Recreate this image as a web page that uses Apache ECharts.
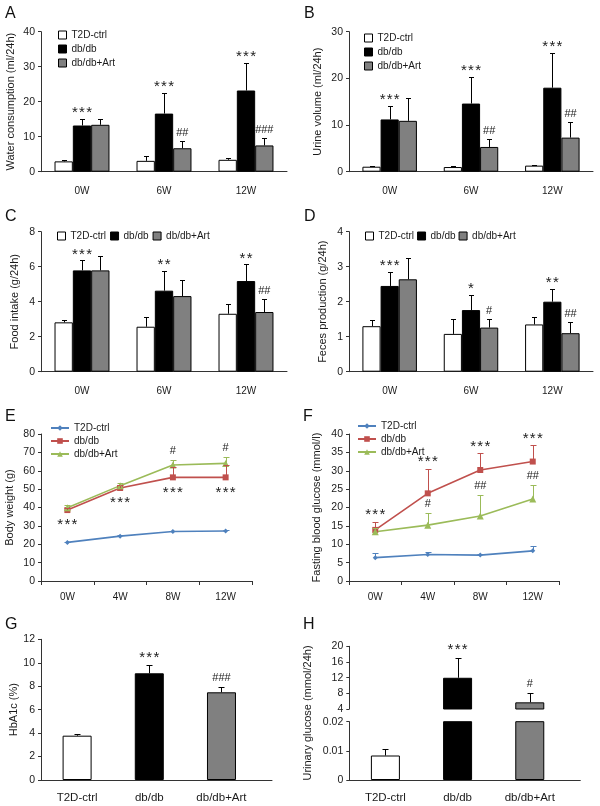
<!DOCTYPE html>
<html><head><meta charset="utf-8">
<script src="https://cdn.jsdelivr.net/npm/echarts@6/dist/echarts.min.js"></script>
<style>html,body{margin:0;padding:0;background:#fff}#c{width:600px;height:806px}</style>
</head><body><div id="c"></div>
<script>
// ---------------- data ----------------
const groups = ['T2D-ctrl', 'db/db', 'db/db+Art'];
const weeks3 = ['0W', '6W', '12W'];
const weeks4 = ['0W', '4W', '8W', '12W'];

// A: water consumption (ml/24h)
const waterTicks = [0, 10, 20, 30, 40];
const waterCtrl = [2.95, 3.1, 3.4],   waterCtrlSD = [0.35, 1.4, 0.6];
const waterDb   = [13.2, 16.6, 23.2], waterDbSD   = [2.0, 6.0, 7.8];
const waterArt  = [13.4, 6.7, 7.5],   waterArtSD  = [1.8, 2.1, 2.1];
const waterDbSig = ['***', '***', '***'], waterArtSig = ['', '##', '###'];

// B: urine volume (ml/24h)
const urineTicks = [0, 10, 20, 30];
const urineCtrl = [1.07, 1.0, 1.3],  urineCtrlSD = [0.13, 0.15, 0.13];
const urineDb   = [11.2, 14.6, 18.0], urineDbSD  = [2.9, 5.8, 7.5];
const urineArt  = [10.9, 5.3, 7.3],   urineArtSD = [5.0, 1.8, 3.4];
const urineDbSig = ['***', '***', '***'], urineArtSig = ['', '##', '##'];

// C: food intake (g/24h)
const foodTicks = [0, 2, 4, 6, 8];
const foodCtrl = [2.82, 2.57, 3.31], foodCtrlSD = [0.13, 0.57, 0.58];
const foodDb   = [5.79, 4.63, 5.18], foodDbSD   = [0.57, 1.12, 0.95];
const foodArt  = [5.79, 4.32, 3.41], foodArtSD  = [0.84, 0.94, 0.72];
const foodDbSig = ['***', '**', '**'], foodArtSig = ['', '', '##'];

// D: feces production (g/24h)
const fecesTicks = [0, 1, 2, 3, 4];
const fecesCtrl = [1.30, 1.08, 1.35], fecesCtrlSD = [0.18, 0.44, 0.21];
const fecesDb   = [2.45, 1.76, 2.00], fecesDbSD   = [0.40, 0.43, 0.37];
const fecesArt  = [2.64, 1.26, 1.10], fecesArtSD  = [0.62, 0.26, 0.32];
const fecesDbSig = ['***', '*', '**'], fecesArtSig = ['', '#', '##'];

// E: body weight (g)
const weightTicks = [0, 10, 20, 30, 40, 50, 60, 70, 80];
const weightCtrl = [21.0, 24.4, 26.9, 27.2], weightCtrlSD = [0.4, 0.4, 0.4, 0.4];
const weightDb   = [38.6, 50.6, 56.4, 56.4], weightDbSD   = [1.0, 1.9, 5.8, 7.0];
const weightArt  = [39.9, 51.9, 63.1, 64.0], weightArtSD  = [1.5, 1.3, 2.8, 3.3];
const weightDbSig = ['***', '***', '***', '***'], weightArtSig = ['', '', '#', '#'];

// F: fasting blood glucose (mmol/l)
const fbgTicks = [0, 5, 10, 15, 20, 25, 30, 35, 40];
const fbgCtrl = [6.35, 7.2, 7.05, 8.2],    fbgCtrlSD = [1.4, 0.8, 0.2, 1.2];
const fbgDb   = [13.9, 23.85, 30.2, 32.5], fbgDbSD   = [2.2, 6.6, 4.5, 4.4];
const fbgArt  = [13.4, 15.2, 17.7, 22.3],  fbgArtSD  = [1.0, 3.4, 5.8, 3.8];
const fbgDbSig = ['***', '***', '***', '***'], fbgArtSig = ['', '#', '##', '##'];

// G: HbA1c (%)
const hbTicks = [0, 2, 4, 6, 8, 10, 12];
const hbVals = [3.78, 9.1, 7.48], hbSD = [0.14, 0.7, 0.48];
const hbSig = ['', '***', '###'];

// H: urinary glucose (mmol/24h), broken axis
const ugUpperTicks = [4, 8, 12, 16, 20];
const ugLowerTicks = [0, 0.01, 0.02];
const ugVals = [0.0084, 11.97, 5.7], ugSD = [0.0022, 5.1, 2.3];
const ugSig = ['', '***', '#'];

// ---------------- styles ----------------
const FONT = "'Liberation Sans', Arial, Helvetica, sans-serif";
const TXT = '#1a1a1a';
const AX = '#333';
const barColors = ['#ffffff', '#000000', '#808080'];
const lineColors = ['#4f81bd', '#c0504d', '#9bbb59'];
const lineSymbols = ['diamond', 'rect', 'triangle'];
const lineSymbolSizes = [5, 6, 7];
const CAT_GAP = 0.33;

const option = {
  animation: false,
  backgroundColor: '#fff',
  textStyle: { fontFamily: FONT },
  grid: [], xAxis: [], yAxis: [], series: [], legend: [], graphic: []
};

function yAxisCfg(gi, ticks, name, nameGap) {
  return {
    type: 'value', gridIndex: gi,
    min: ticks[0], max: ticks[ticks.length - 1], interval: ticks[1] - ticks[0],
    name: name || '', nameLocation: 'middle', nameGap: nameGap || 0,
    nameTextStyle: { fontSize: 11, color: TXT, fontFamily: FONT },
    axisLine: { show: true, lineStyle: { color: AX, width: 1 } },
    axisTick: { show: true, length: 3, lineStyle: { color: AX } },
    axisLabel: { fontSize: 10.5, color: TXT, margin: 6, fontFamily: FONT },
    splitLine: { show: false }
  };
}

function inRange(ticks, v) { return v >= ticks[0] - 1e-9 && v <= ticks[ticks.length - 1] + 1e-9; }

function errSeries(gi, xs, means, sds, offFn, color, capHalf, ticks) {
  return {
    type: 'custom', xAxisIndex: gi, yAxisIndex: gi, silent: true, z: 6, clip: false,
    data: means.map((m, i) => [xs[i], m, m + sds[i]]),
    renderItem(params, api) {
      const m = api.value(1), t = api.value(2);
      if (ticks && (!inRange(ticks, m) || !inRange(ticks, t))) return null;
      const band = api.size([1, 0])[0];
      const b = api.coord([api.value(0), m]);
      const p = api.coord([api.value(0), t]);
      const x = Math.round(b[0] + offFn(band)) + 0.5;
      const yt = Math.round(p[1]) + 0.5;
      return { type: 'group', children: [
        { type: 'line', shape: { x1: x, y1: b[1], x2: x, y2: yt }, style: { stroke: color, lineWidth: 1 } },
        { type: 'line', shape: { x1: x - capHalf, y1: yt, x2: x + capHalf, y2: yt }, style: { stroke: color, lineWidth: 1 } }
      ]};
    }
  };
}

function sigSeries(gi, xs, anchors, texts, offFn, dyFn, ticks) {
  return {
    type: 'custom', xAxisIndex: gi, yAxisIndex: gi, silent: true, z: 10, clip: false,
    data: anchors.map((a, i) => [xs[i], a]),
    renderItem(params, api) {
      const t = texts[params.dataIndex];
      if (!t) return null;
      if (ticks && !inRange(ticks, api.value(1))) return null;
      const band = api.size([1, 0])[0];
      const p = api.coord([api.value(0), api.value(1)]);
      const star = t[0] === '*';
      return { type: 'text', x: p[0] + offFn(band), y: p[1] + dyFn(star) + (star ? 1 : 0),
        style: { text: star ? t.split('').join('\u200a') : t, fill: TXT,
          font: (star ? '15px ' : '11px ') + FONT, align: 'center', verticalAlign: 'middle' } };
    }
  };
}

function barLegend(gi, cfg) {
  return Object.assign({
    data: groups.slice(), icon: 'rect', itemWidth: 8, itemHeight: 8, padding: 0,
    itemStyle: { borderColor: '#000', borderWidth: 1 },
    textStyle: { fontSize: 10, color: TXT, fontFamily: FONT }, selectedMode: false
  }, cfg);
}

function barPanel(p) {
  const gi = option.grid.length;
  option.grid.push(p.grid);
  option.xAxis.push({ type: 'category', gridIndex: gi, data: weeks3,
    axisLine: { lineStyle: { color: AX } }, axisTick: { show: false },
    axisLabel: { fontSize: 10, color: TXT, margin: 15, fontFamily: FONT } });
  option.yAxis.push(yAxisCfg(gi, p.ticks, p.name, p.nameGap));
  const xs = weeks3.map((w, i) => i);
  p.means.forEach((m, s) => {
    option.series.push({ type: 'bar', name: groups[s], xAxisIndex: gi, yAxisIndex: gi, data: m,
      barGap: '0%', barCategoryGap: (CAT_GAP * 100) + '%',
      itemStyle: { color: barColors[s], borderColor: '#000', borderWidth: 1 } });
  });
  p.means.forEach((m, s) => {
    const off = band => (s - 1) * band * (1 - CAT_GAP) / 3;
    option.series.push(errSeries(gi, xs, m, p.sds[s], off, '#000', 2.5));
    if (p.sigs[s]) option.series.push(sigSeries(gi, xs, m.map((v, i) => v + p.sds[s][i]), p.sigs[s], off,
      star => star ? -7 : -8));
  });
  option.legend.push(barLegend(gi, p.legend));
}

function linePanel(p) {
  const gi = option.grid.length;
  option.grid.push(p.grid);
  option.xAxis.push({ type: 'category', gridIndex: gi, data: weeks4,
    axisLine: { lineStyle: { color: AX } }, axisTick: { show: true, length: 4, lineStyle: { color: AX } },
    axisLabel: { fontSize: 10, color: TXT, margin: 11, fontFamily: FONT } });
  option.yAxis.push(yAxisCfg(gi, p.ticks, p.name, p.nameGap));
  const xs = weeks4.map((w, i) => i);
  p.means.forEach((m, s) => {
    option.series.push({ type: 'line', name: groups[s] + ' ', xAxisIndex: gi, yAxisIndex: gi, data: m,
      symbol: lineSymbols[s], symbolSize: lineSymbolSizes[s], showSymbol: true,
      lineStyle: { color: lineColors[s], width: 1.6 }, itemStyle: { color: lineColors[s] }, z: 3 });
  });
  p.means.forEach((m, s) => {
    option.series.push(errSeries(gi, xs, m, p.sds[s], () => 0, lineColors[s], 3));
  });
  p.sigList.forEach(sg => option.series.push(sigSeries(gi, xs, sg.anchors, sg.texts, () => 0, sg.dy)));
  option.legend.push(Object.assign({
    data: groups.map(g => g + ' '), formatter: n => n.trim(), orient: 'vertical', padding: 0,
    itemWidth: 18, itemHeight: 7, itemGap: 3, selectedMode: false,
    textStyle: { fontSize: 10, color: TXT, fontFamily: FONT }
  }, p.legend));
}

function singleBarAxisX(gi, show) {
  return { type: 'value', gridIndex: gi, min: 0, max: 3.2, interval: 0.5, show: show,
    axisLine: { show: true, onZero: false, lineStyle: { color: AX } }, axisTick: { show: false }, splitLine: { show: false },
    axisLabel: { fontSize: 11.5, color: TXT, margin: 12, fontFamily: FONT, showMaxLabel: false, showMinLabel: false,
      formatter: v => { const k = Math.round(v - 0.5); return (Math.abs(v - 0.5 - k) < 1e-6 && groups[k]) ? groups[k] : ''; } } };
}

function singleBarSeries(gi, vals) {
  return { type: 'bar', xAxisIndex: gi, yAxisIndex: gi, barWidth: 29, clip: true,
    data: vals.map((v, i) => ({ value: [i + 0.5, v], itemStyle: { color: barColors[i], borderColor: '#000', borderWidth: 1 } })) };
}

// ---------------- panels ----------------
barPanel({ grid: { left: 41, top: 31.7, width: 246, height: 140 }, ticks: waterTicks,
  name: 'Water consumption (ml/24h)', nameGap: 25,
  means: [waterCtrl, waterDb, waterArt], sds: [waterCtrlSD, waterDbSD, waterArtSD], sigs: [null, waterDbSig, waterArtSig],
  legend: { orient: 'vertical', left: 58, top: 30, itemGap: 4 } });

barPanel({ grid: { left: 349, top: 31.7, width: 244, height: 140 }, ticks: urineTicks,
  name: 'Urine volume (ml/24h)', nameGap: 26,
  means: [urineCtrl, urineDb, urineArt], sds: [urineCtrlSD, urineDbSD, urineArtSD], sigs: [null, urineDbSig, urineArtSig],
  legend: { orient: 'vertical', left: 364, top: 33, itemGap: 4 } });

barPanel({ grid: { left: 41, top: 231.7, width: 246, height: 140 }, ticks: foodTicks,
  name: 'Food intake (g/24h)', nameGap: 21,
  means: [foodCtrl, foodDb, foodArt], sds: [foodCtrlSD, foodDbSD, foodArtSD], sigs: [null, foodDbSig, foodArtSig],
  legend: { orient: 'horizontal', left: 57, top: 231, itemGap: 4 } });

barPanel({ grid: { left: 349, top: 231.7, width: 244, height: 140 }, ticks: fecesTicks,
  name: 'Feces production (g/24h)', nameGap: 21,
  means: [fecesCtrl, fecesDb, fecesArt], sds: [fecesCtrlSD, fecesDbSD, fecesArtSD], sigs: [null, fecesDbSig, fecesArtSig],
  legend: { orient: 'horizontal', left: 365, top: 231, itemGap: 3 } });

linePanel({ grid: { left: 41, top: 434, width: 211, height: 147 }, ticks: weightTicks,
  name: 'Body weight (g)', nameGap: 26,
  means: [weightCtrl, weightDb, weightArt], sds: [weightCtrlSD, weightDbSD, weightArtSD],
  sigList: [
    { anchors: weightDb, texts: weightDbSig, dy: () => 14 },
    { anchors: weightArt.map((v, i) => v + weightArtSD[i]), texts: weightArtSig, dy: () => -9 }
  ],
  legend: { left: 50, top: 423 } });

linePanel({ grid: { left: 349, top: 434, width: 210, height: 147 }, ticks: fbgTicks,
  name: 'Fasting blood glucose (mmol/l)', nameGap: 27,
  means: [fbgCtrl, fbgDb, fbgArt], sds: [fbgCtrlSD, fbgDbSD, fbgArtSD],
  sigList: [
    { anchors: fbgDb.map((v, i) => v + fbgDbSD[i]), texts: fbgDbSig, dy: () => -8 },
    { anchors: fbgArt.map((v, i) => v + fbgArtSD[i]), texts: fbgArtSig, dy: () => -9 }
  ],
  legend: { left: 357, top: 421 } });

// G
(function () {
  const gi = option.grid.length;
  option.grid.push({ left: 41, top: 639.3, width: 231, height: 140.7 });
  option.xAxis.push(singleBarAxisX(gi, true));
  option.yAxis.push(yAxisCfg(gi, hbTicks, 'HbA1c (%)', 21));
  option.series.push(singleBarSeries(gi, hbVals));
  const xs = groups.map((g, i) => i + 0.5);
  option.series.push(errSeries(gi, xs, hbVals, hbSD, () => 0, '#000', 3));
  option.series.push(sigSeries(gi, xs, hbVals.map((v, i) => v + hbSD[i]), hbSig, () => 0, star => star ? -8 : -9));
})();

// H (broken axis: upper and lower parts)
(function () {
  const xs = groups.map((g, i) => i + 0.5);
  const parts = [
    { grid: { left: 349.3, top: 646.3, width: 231, height: 62.7 }, ticks: ugUpperTicks, showX: false },
    { grid: { left: 349.3, top: 721.7, width: 231, height: 58.3 }, ticks: ugLowerTicks, showX: true }
  ];
  parts.forEach(pt => {
    const gi = option.grid.length;
    option.grid.push(pt.grid);
    option.xAxis.push(singleBarAxisX(gi, pt.showX));
    option.yAxis.push(yAxisCfg(gi, pt.ticks));
    option.series.push(singleBarSeries(gi, ugVals));
    option.series.push(errSeries(gi, xs, ugVals, ugSD, () => 0, '#000', 3, pt.ticks));
    option.series.push(sigSeries(gi, xs, ugVals.map((v, i) => v + ugSD[i]), ugSig, () => 0, star => star ? -9 : -9, pt.ticks));
  });
  option.graphic.push({ type: 'text', x: 307.5, y: 713, rotation: Math.PI / 2,
    style: { text: 'Urinary glucose (mmol/24h)', fill: TXT, font: '11px ' + FONT, align: 'center', verticalAlign: 'middle' } });
})();

// panel letters
[['A', 5, 6], ['B', 304, 6], ['C', 5, 209], ['D', 304, 209], ['E', 5, 409], ['F', 303, 409], ['G', 5, 617], ['H', 303, 617]]
  .forEach(([t, x, y]) => option.graphic.push({ type: 'text', x: x, y: y,
    style: { text: t, fill: '#111', font: '16px ' + FONT, align: 'left', verticalAlign: 'top' } }));

const chart = echarts.init(document.getElementById('c'), null, { renderer: 'canvas' });
chart.setOption(option);
</script>
</body></html>
